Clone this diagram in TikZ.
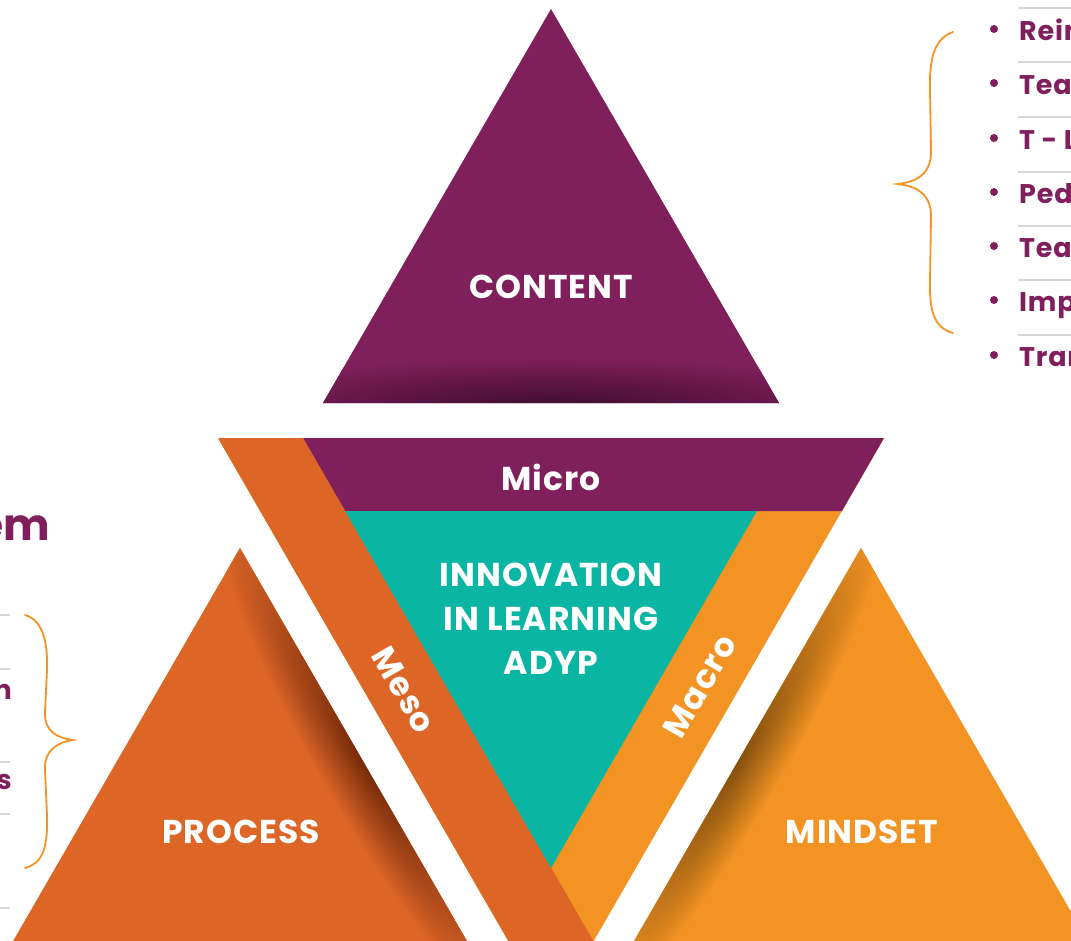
\documentclass[tikz,border=0pt]{standalone}
\usepackage{fontspec}
\setmainfont{Poppins}
\usetikzlibrary{calc}
\definecolor{cpurple}{HTML}{7F1F5C}
\definecolor{cshadow}{HTML}{3E0C2E}
\definecolor{dorange}{HTML}{DD6627}
\definecolor{dshadow}{HTML}{74290A}
\definecolor{lorange}{HTML}{F39323}
\definecolor{lshadow}{HTML}{84500F}
\definecolor{teal}{HTML}{0AB5A3}
\definecolor{gline}{HTML}{D6D6D6}
\tikzset{
  biglabel/.style={text=white, font=\fontsize{33}{44}\selectfont\bfseries\addfontfeatures{LetterSpace=3}, align=center, inner sep=0pt},
  listtext/.style={text=cpurple, font=\fontsize{27}{30}\selectfont\bfseries\addfontfeatures{LetterSpace=3}, inner sep=0pt},
  sepline/.style={draw=gline, line width=1.6pt},
  bracestyle/.style={draw=lorange, line width=1.8pt, line cap=round},
  bulletdot/.style={circle, fill=cpurple, minimum size=8pt, inner sep=0pt}
}
\begin{document}
\begin{tikzpicture}[x=1pt,y=-1pt]
\useasboundingbox (0,0) rectangle (1071,940);
\begin{scope}
\clip (0,0) rectangle (1071,940);

% ---------- CONTENT triangle
\coordinate (ca) at (551,9);
\coordinate (cl) at (323,403);
\coordinate (cr) at (779,403);
\fill[cpurple] (ca) -- (cr) -- (cl) -- cycle;
\begin{scope}
  \clip (ca) -- (cr) -- (cl) -- cycle;
  \shade[inner color=cshadow, outer color=cpurple] (551,407) ellipse [x radius=340, y radius=50];
\end{scope}
\node[biglabel] (content) at (551,287) {CONTENT};

% ---------- big inverted triangle
\coordinate (tl) at (218,438);
\coordinate (tr) at (884,438);
\coordinate (tb) at (551,1015);
\fill[lorange] (tl) -- (tr) -- (tb) -- cycle;
% Micro strip
\fill[cpurple] (303,438) -- (tr) -- (842,511) -- (345,511) -- cycle;
% Meso band
\fill[dorange] (tl) -- (303,438) -- (685.2,1100) -- (600.2,1100) -- cycle;
% teal centre
\fill[teal] (345,511) -- (757,511) -- (551,868) -- cycle;

\node[biglabel] (micro) at (551,477) {Micro};
\node[biglabel] (innov) at (551,619) {INNOVATION\\IN LEARNING\\ADYP};
\node[biglabel, rotate=-60] (meso) at (404,690) {Meso};
\node[biglabel, rotate=60] (macro) at (700,686) {Macro};

% ---------- PROCESS triangle
\coordinate (pa) at (240,548);
\coordinate (pl) at (-21,1000);
\coordinate (pr) at (501,1000);
\fill[dorange] (pa) -- (pr) -- (pl) -- cycle;
\begin{scope}
  \clip (pa) -- (pr) -- (pl) -- cycle;
  \begin{scope}[transform canvas={rotate around={-60:(364,763)}}]
    \shade[inner color=dshadow, outer color=dorange] (364,763) ellipse [x radius=280, y radius=46];
  \end{scope}
\end{scope}
\node[biglabel] (process) at (241,832) {PROCESS};

% ---------- MINDSET triangle
\coordinate (ma) at (861,548);
\coordinate (ml) at (600,1000);
\coordinate (mr) at (1122,1000);
\fill[lorange] (ma) -- (mr) -- (ml) -- cycle;
\begin{scope}
  \clip (ma) -- (mr) -- (ml) -- cycle;
  \begin{scope}[transform canvas={rotate around={60:(737,763)}}]
    \shade[inner color=lshadow, outer color=lorange] (737,763) ellipse [x radius=280, y radius=46];
  \end{scope}
\end{scope}
\node[biglabel] (mindset) at (862,832) {MINDSET};

% ---------- right list
\foreach \yy in {8,62,117,172,226,280,335}
  \draw[sepline] (1018,\yy) -- (1071,\yy);
\foreach \yy/\tt/\nm in {40/Rein/r1, 94/Teac/r2, 149/T - L/r3, 203/Ped/r4, 257/Teac/r5, 311/Imp/r6, 366/Tran/r7}{
  \node[bulletdot] (b\nm) at (994,\yy-11) {};
  \node[listtext, anchor=base west] (\nm) at (1019,\yy) {\tt};
}
\draw[bracestyle] (953,32) .. controls (936,38) and (929,55) .. (930,90)
  -- (931,150) .. controls (932,175) and (915,182) .. (898,184)
  .. controls (915,186) and (932,193) .. (931,218)
  -- (930,280) .. controls (929,315) and (936,328) .. (953,333);

% ---------- left side
\node[text=cpurple, font=\fontsize{44}{50}\selectfont\bfseries, inner sep=0pt, anchor=east] (em) at (50,528) {em};
\foreach \yy in {615,669,762,814,908}
  \draw[sepline] (0,\yy) -- (10,\yy);
\node[listtext, anchor=east] (ln) at (12,692) {n};
\node[listtext, anchor=east] (ls) at (12,782) {s};
\draw[bracestyle] (25,615) .. controls (42,620) and (48,640) .. (47,670)
  -- (45,712) .. controls (44,732) and (58,738) .. (73,740)
  .. controls (58,742) and (44,750) .. (45,770)
  -- (47,815) .. controls (48,850) and (42,863) .. (25,868);
\end{scope}
\end{tikzpicture}
\end{document}
